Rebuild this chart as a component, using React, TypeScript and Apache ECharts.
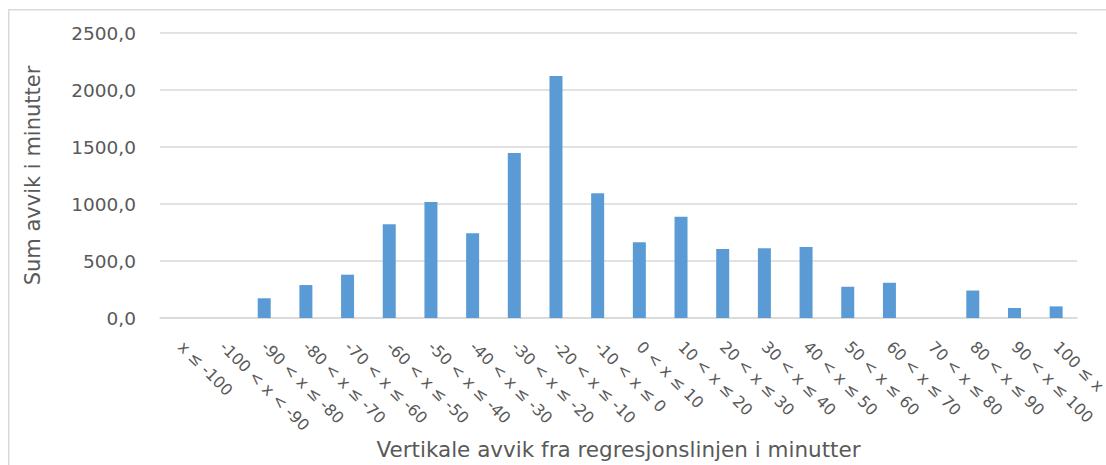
import React, { useEffect, useRef } from "react";
import * as echarts from "echarts";

const categories: string[] = [
  "x ≤ -100",
  "-100 < x < -90",
  "-90 < x ≤ -80",
  "-80 < x ≤ -70",
  "-70 < x ≤ -60",
  "-60 < x ≤ -50",
  "-50 < x ≤ -40",
  "-40 < x ≤ -30",
  "-30 < x ≤ -20",
  "-20 < x ≤ -10",
  "-10 < x ≤ 0",
  "0 < x ≤ 10",
  "10 < x ≤ 20",
  "20 < x ≤ 30",
  "30 < x ≤ 40",
  "40 < x ≤ 50",
  "50 < x ≤ 60",
  "60 < x ≤ 70",
  "70 < x ≤ 80",
  "80 < x ≤ 90",
  "90 < x ≤ 100",
  "100 ≤ x",
];

const sumDeviation: number[] = [
  0, 0, 173, 289, 380, 822, 1018, 743, 1447, 2123, 1094, 664, 888, 606, 612,
  623, 274, 309, 0, 241, 88, 102,
];

const yTicks = { min: 0, max: 2500, interval: 500 };

const yAxisTitle = "Sum avvik i minutter";
const xAxisTitle = "Vertikale avvik fra regresjonslinjen i minutter";

const FONT = "'DejaVu Sans', 'Open Sans', sans-serif";
const TEXT_COLOR = "#595959";

export default function App() {
  const ref = useRef<HTMLDivElement>(null);

  useEffect(() => {
    if (!ref.current) return;
    const chart = echarts.init(ref.current, undefined, { renderer: "svg" });
    chart.setOption({
      animation: false,
      backgroundColor: "#ffffff",
      textStyle: { fontFamily: FONT },
      graphic: [
        {
          type: "rect",
          shape: { x: 0.75, y: 1.75, width: 3000, height: 3000 },
          style: { fill: "none", stroke: "#d9d9d9", lineWidth: 1.5 },
          silent: true,
        },
      ],
      grid: {
        left: 152,
        right: 29,
        top: 25,
        bottom: 147,
        containLabel: false,
        outerBoundsMode: "none",
      },
      xAxis: {
        type: "category",
        data: categories,
        axisLine: { show: true, lineStyle: { color: "#d9d9d9", width: 1.5 } },
        axisTick: { show: false },
        axisLabel: {
          interval: 0,
          rotate: -45,
          margin: 26,
          color: TEXT_COLOR,
          fontSize: 16,
          fontFamily: FONT,
          hideOverlap: false,
        },
        name: xAxisTitle,
        nameLocation: "middle",
        nameGap: 120,
        nameMoveOverlap: false,
        nameTextStyle: { color: TEXT_COLOR, fontSize: 21.5, fontFamily: FONT },
      },
      yAxis: {
        type: "value",
        min: yTicks.min,
        max: yTicks.max,
        interval: yTicks.interval,
        axisLine: { show: false },
        axisTick: { show: false },
        splitLine: { lineStyle: { color: "#d9d9d9", width: 1.5 } },
        axisLabel: {
          margin: 24,
          color: TEXT_COLOR,
          fontSize: 18.5,
          fontFamily: FONT,
          formatter: (v: number) => v.toFixed(1).replace(".", ","),
        },
        name: yAxisTitle,
        nameLocation: "middle",
        nameRotate: 90,
        nameGap: 117,
        nameMoveOverlap: false,
        nameTextStyle: { color: TEXT_COLOR, fontSize: 21, fontFamily: FONT },
      },
      series: [
        {
          type: "bar",
          data: sumDeviation,
          barWidth: 13,
          itemStyle: { color: "#5B9BD5" },
        },
      ],
    });
    return () => chart.dispose();
  }, []);

  return (
    <div
      ref={ref}
      style={{ position: "fixed", left: 8, top: 8, width: 1098, height: 457 }}
    />
  );
}
